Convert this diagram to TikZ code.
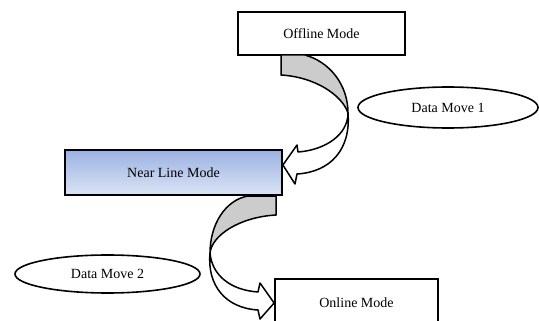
\documentclass[tikz,border=0pt]{standalone}
\usepackage{fontspec}
\setmainfont{Liberation Serif}
\usepackage{tikz}
\usetikzlibrary{shapes}
\usetikzlibrary{calc}

\definecolor{nearblue}{RGB}{155,178,225}
\definecolor{paleblue}{RGB}{218,228,246}
\definecolor{backgray}{RGB}{204,204,204}

\begin{document}
\begin{tikzpicture}[x=1pt,y=-1pt]
          \clip (0,0) rectangle (539,321);
          \begin{scope}[every node/.style={rectangle,draw,line width=1.8pt,font=\fontsize{14}{16}\selectfont}]
            \node[minimum width=167pt,minimum height=43pt] (off) at (321.5,33.5) {Offline Mode};
            \node[minimum width=217pt,minimum height=45pt,top color=nearblue,bottom color=paleblue] (near) at (173.5,172.5) {Near Line Mode};
            \node[minimum width=163pt,minimum height=48pt] (onl) at (356.5,303) {Online Mode};
          \end{scope}
          \begin{scope}[every node/.style={ellipse,draw,line width=1.6pt,inner sep=0pt,font=\fontsize{14}{16}\selectfont}]
            \node[minimum width=180pt,minimum height=41pt] (dm1) at (448,107.5) {Data Move 1};
            \node[minimum width=185pt,minimum height=38pt] (dm2) at (107.5,274) {Data Move 2};
          \end{scope}
          \begin{scope}[line width=1.5pt,line join=round]
            % offline -> near line
            \filldraw[fill=backgray] (281,55) -- (281,75) .. controls (315,77) and (342,95) .. (348,113)
              .. controls (348,85) and (330,62) .. (305,55) -- cycle;
            \filldraw[fill=white] (348,113) .. controls (348,135) and (325,150) .. (298,152) -- (297,145)
              -- (near.east |- 0,165) -- (295,184) -- (297,174) .. controls (330,172) and (351,150) .. (348,113) -- cycle;
            % near line -> online
            \filldraw[fill=backgray] (276,196) -- (276,215) .. controls (240,217) and (212,235) .. (210,253)
              .. controls (210,225) and (225,200) .. (248,196) -- cycle;
            \filldraw[fill=white] (210,253) .. controls (212,275) and (230,290) .. (258,292) -- (260,283)
              -- (onl.west) -- (260,319) -- (258,310) .. controls (225,308) and (207,285) .. (210,253) -- cycle;
          \end{scope}
        \end{tikzpicture}
\end{document}
